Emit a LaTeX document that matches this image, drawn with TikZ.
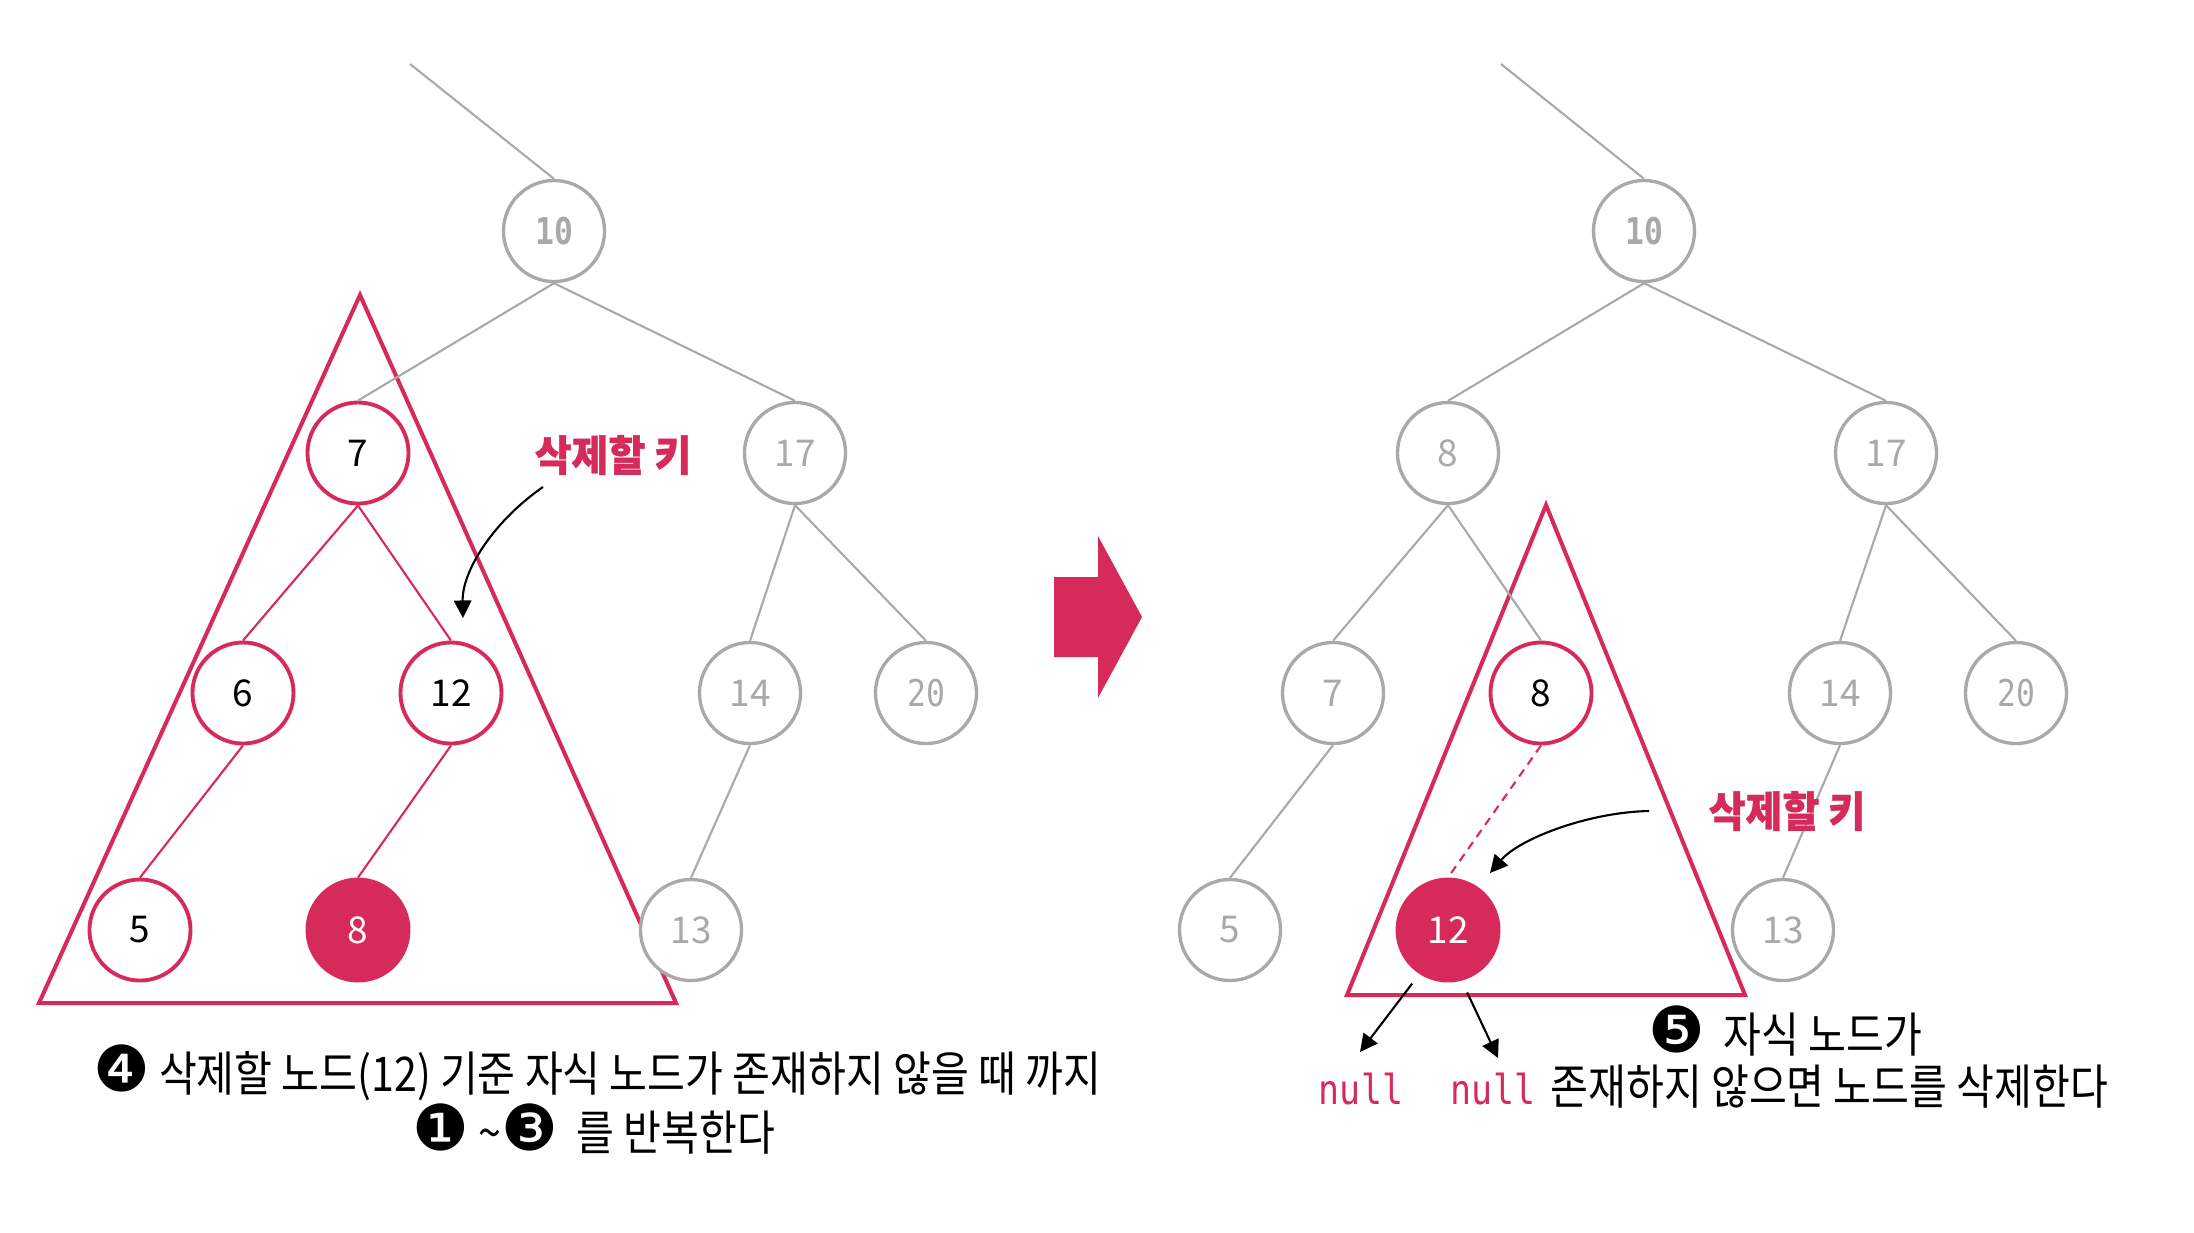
\documentclass[tikz,border=0pt]{standalone}
\usepackage{fontspec}
\setmainfont{Noto Sans CJK KR}
\newfontfamily\krc{Noto Sans CJK KR}[FakeStretch=0.86]
\newfontfamily\krb{Noto Sans CJK KR}[FakeStretch=0.95, BoldFeatures={FakeBold=0.9}]
\newfontfamily\sym{DejaVu Sans}
\newfontfamily\mono{DejaVu Sans Mono}[FakeStretch=0.85]
\usetikzlibrary{arrows.meta}
\definecolor{keyred}{HTML}{D62A5B}
\definecolor{lgray}{HTML}{A9A9A9}
\newcommand{\cnum}[1]{{\sym\fontsize{18}{18}\selectfont #1}}
\tikzset{
  gnode/.style  = {circle, draw=lgray, line width=0.95pt, fill=white, minimum size=1.01cm, inner sep=0, text=lgray, font=\fontsize{10.5}{12}\selectfont},
  rnode/.style  = {circle, draw=keyred, line width=1.1pt, fill=white, minimum size=1.01cm, inner sep=0, font=\fontsize{10.5}{12}\selectfont},
  knode/.style  = {rnode, fill=keyred, text=white},
  gedge/.style  = {draw=lgray, line width=0.6pt},
  redge/.style  = {draw=keyred, line width=0.6pt},
  tri/.style    = {draw=keyred, line width=1.15pt},
  keylab/.style = {text=keyred, inner sep=0, font=\krb\fontsize{12}{14}\selectfont\bfseries},
  note/.style   = {inner sep=0, font=\krc\fontsize{13.6}{16}\selectfont},
  pointer/.style= {-{Triangle[length=5pt,width=5pt]}, line width=0.6pt},
  nulltxt/.style= {text=keyred, inner sep=0, font=\mono\fontsize{11.7}{13}\selectfont}
}

\begin{document}
\begin{tikzpicture}[x=0.01cm, y=-0.01cm]
  \useasboundingbox (0,0) rectangle (2194,1232);

  \draw[tri] (360,295) -- (39,1003) -- (676,1003) -- cycle;
  \node[gnode] (L10) at (554,231) {\mono\bfseries 10};
  \node[rnode] (L7)  at (358,453) {7};
  \node[gnode] (L17) at (795,453) {17};
  \node[rnode] (L6)  at (243,693) {6};
  \node[rnode] (L12) at (451,693) {12};
  \node[gnode] (L14) at (750,693) {14};
  \node[gnode] (L20) at (926,693) {\mono 20};
  \node[rnode] (L5)  at (140,930) {5};
  \node[knode] (L8)  at (358,930) {8};
  \node[gnode] (L13) at (691,930) {13};
  \coordinate (Ltop) at (410,64);
  \draw[gedge] (Ltop) -- (L10.north);
  \draw[gedge] (L10.south) -- (L7.north);  \draw[gedge] (L10.south) -- (L17.north);
  \draw[redge] (L7.south) -- (L6.north);   \draw[redge] (L7.south) -- (L12.north);
  \draw[redge] (L6.south) -- (L5.north);   \draw[redge] (L12.south) -- (L8.north);
  \draw[gedge] (L17.south) -- (L14.north); \draw[gedge] (L17.south) -- (L20.north);
  \draw[gedge] (L14.south) -- (L13.north);
  \node[keylab] (kL) at (613,455) {삭제할 키};
  \coordinate (kLa) at (543,487); \coordinate (kLb) at (463,618);
  \draw[pointer] (kLa) .. controls (495,520) and (462,570) .. (kLb);

  \fill[keyred] (1054,577) -- (1098,577) -- (1098,536) -- (1142,617) -- (1098,698) -- (1098,657) -- (1054,657) -- cycle;

  \draw[tri] (1546,505) -- (1347,995) -- (1745,995) -- cycle;
  \node[gnode] (R10) at (1644,231) {\mono\bfseries 10};
  \node[gnode] (R8)  at (1448,453) {8};
  \node[gnode] (R17) at (1886,453) {17};
  \node[gnode] (R7)  at (1333,693) {7};
  \node[rnode] (R8b) at (1541,693) {8};
  \node[gnode] (R14) at (1840,693) {14};
  \node[gnode] (R20) at (2016,693) {\mono 20};
  \node[gnode] (R5)  at (1230,930) {5};
  \node[knode] (R12) at (1448,930) {12};
  \node[gnode] (R13) at (1783,930) {13};
  \coordinate (Rtop) at (1501,64);
  \draw[gedge] (Rtop) -- (R10.north);
  \draw[gedge] (R10.south) -- (R8.north);  \draw[gedge] (R10.south) -- (R17.north);
  \draw[gedge] (R8.south) -- (R7.north);   \draw[gedge] (R8.south) -- (R8b.north);
  \draw[gedge] (R7.south) -- (R5.north);
  \draw[redge, dash pattern=on 2.4pt off 1.8pt] (R8b.south) -- (R12.north);
  \draw[gedge] (R17.south) -- (R14.north); \draw[gedge] (R17.south) -- (R20.north);
  \draw[gedge] (R14.south) -- (R13.north);
  \node[keylab] (kR) at (1787,811) {삭제할 키};
  \coordinate (kRa) at (1649,811); \coordinate (kRb) at (1490,873);
  \draw[pointer] (kRa) .. controls (1590,812) and (1520,838) .. (kRb);

  \coordinate (nA) at (1360,1052); \coordinate (nB) at (1498,1058);
  \draw[pointer, shorten <=0.12cm] (R12.-123) -- (nA);
  \draw[pointer, shorten <=0.13cm] (R12.-75) -- (nB);
  \node[nulltxt, anchor=base] (null1) at (1361,1104) {null};
  \node[nulltxt, anchor=base] (null2) at (1493,1104) {null};
  \node[note, anchor=base west] (t5b) at (1550,1104) {존재하지 않으면 노드를 삭제한다};
  \node[note, anchor=base west] (t5a) at (1648,1052) {\cnum{❺}\ \ 자식 노드가};

  \node[note, anchor=base] (t4a) at (597,1091) {\cnum{❹} 삭제할 노드(12) 기준 자식 노드가 존재하지 않을 때 까지};
  \node[note, anchor=base] (t4b) at (594,1150) {\cnum{❶} {\textasciitilde}\cnum{❸}\ \ 를 반복한다};
\end{tikzpicture}
\end{document}
